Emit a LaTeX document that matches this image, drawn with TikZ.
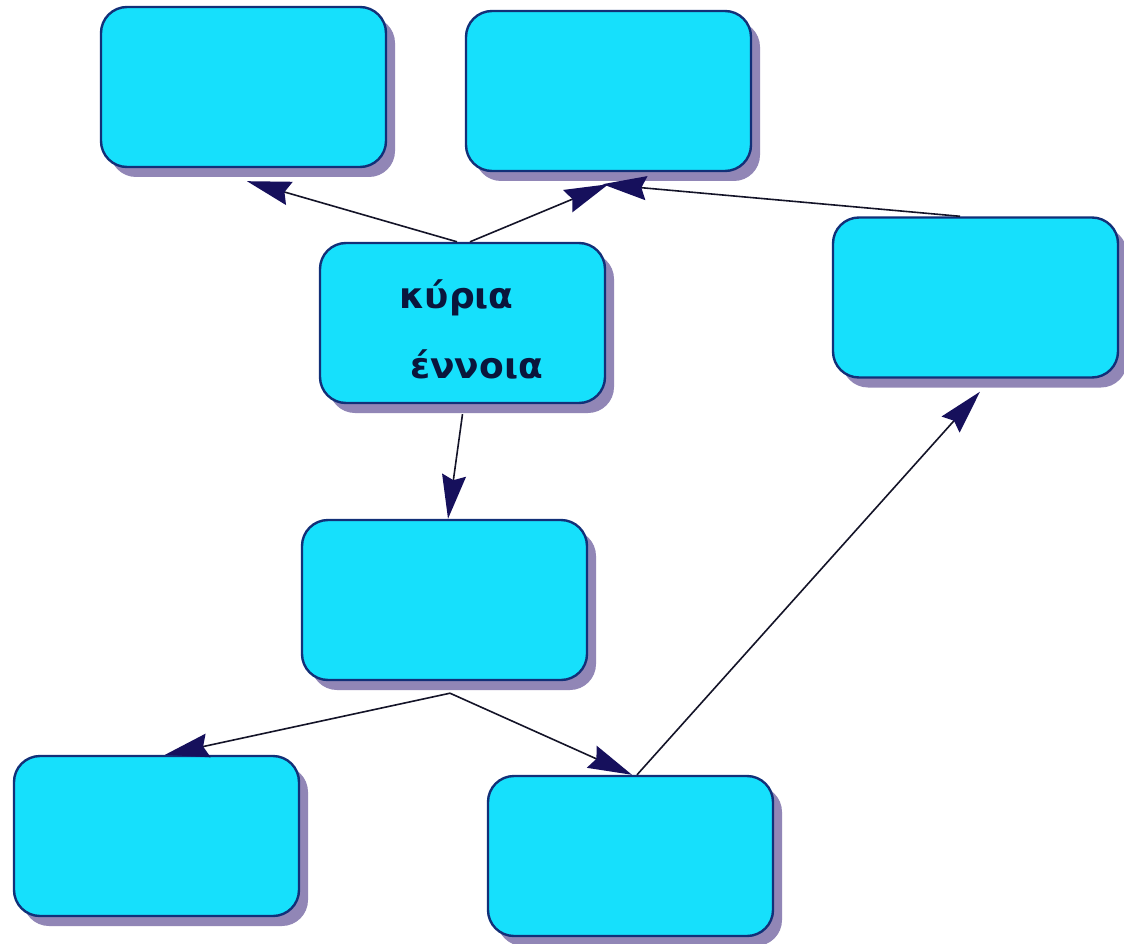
\documentclass[tikz,border=0pt]{standalone}
\usepackage{fontspec}
\newfontfamily\labelfont{DejaVu Sans}
\usetikzlibrary{arrows.meta,shadows}
\definecolor{boxfill}{RGB}{22,224,252}
\definecolor{boxline}{RGB}{18,48,120}
\definecolor{shadowc}{RGB}{145,134,182}
\definecolor{headc}{RGB}{22,16,92}
\definecolor{linec}{RGB}{20,20,40}
\definecolor{textc}{RGB}{10,22,60}
\tikzset{
  cbox/.style={draw=boxline, line width=2.4pt, fill=boxfill,
    rounded corners=26pt, minimum width=285pt, minimum height=160pt,
    inner sep=0pt,
    drop shadow={shadow xshift=9pt, shadow yshift=-10pt, fill=shadowc, opacity=1}},
  conn/.style={draw=linec, line width=1.6pt,
    -{Stealth[length=44pt,width=24pt,inset=5pt,color=headc]}},
  gtext/.style={text=textc, font=\labelfont\bfseries\fontsize{36}{36}\selectfont,
    anchor=base west, inner sep=0pt}
}
\begin{document}
\begin{tikzpicture}[x=1pt,y=-1pt]
\useasboundingbox[fill=white] (0,0) rectangle (1124,944);
\node[cbox] (A) at (243.5,87) {};
\node[cbox] (B) at (608.5,91) {};
\node[cbox] (C) at (975.5,297.5) {};
\node[cbox] (M) at (462.5,323) {};
\node[cbox] (D) at (444.5,600) {};
\node[cbox] (E) at (156.5,836) {};
\node[cbox] (F) at (630.5,856) {};
\node[gtext] (Mt1) at (399,308) {κύρια};
\node[gtext] (Mt2) at (410,378) {έννοια};
\draw[conn] ([xshift=-5.5pt]M.north) -- ([xshift=3.5pt,yshift=-13pt]A.south);
\draw[conn] ([xshift=7.5pt]M.north) -- ([yshift=-12pt]B.south);
\draw[conn] ([xshift=-15.5pt]C.north) -- ([xshift=-6pt,yshift=-12pt]B.south);
\draw[conn] ([yshift=-10pt]M.south) -- ([xshift=3.5pt]D.north);
\draw[conn] ([xshift=5.5pt,yshift=-12pt]D.south) -- ([xshift=8.5pt]E.north);
\draw[conn] ([xshift=5.5pt,yshift=-12pt]D.south) -- ([xshift=1.5pt]F.north);
\draw[conn] ([xshift=6.5pt]F.north) -- ([xshift=4.5pt,yshift=-13pt]C.south);
\end{tikzpicture}
\end{document}
